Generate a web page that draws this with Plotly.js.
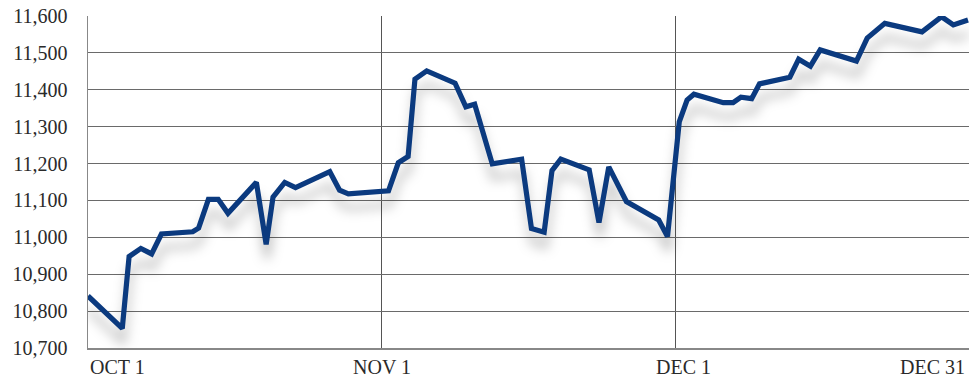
<!DOCTYPE html>
<html>
<head>
<meta charset="utf-8">
<script src="https://cdn.plot.ly/plotly-3.0.1.min.js"></script>
<style>
  html, body { margin: 0; padding: 0; background: #fff; overflow: hidden; }
  #chart { width: 970px; height: 379px; }
  #chart .scatterlayer .js-line { filter: drop-shadow(1px 14px 6px rgba(0,0,0,0.26)); }
</style>
</head>
<body>
<div id="chart"></div>
<script>
// Position of each reading in days since Oct 1 (30-day-month convention: Nov 1 = 30, Dec 1 = 60, Dec 31 = 90)
const dayOffset = [0.0, 3.5, 4.2, 5.4, 6.5, 7.5, 10.7, 11.3, 12.3, 13.3, 14.3, 17.2, 18.2, 18.9, 20.1, 21.2,
  24.7, 25.7, 26.6, 30.7, 31.7, 32.7, 33.4, 34.6, 37.5, 38.6, 39.5, 41.3, 44.3, 45.3, 46.6, 47.4, 48.3,
  51.2, 52.2, 53.2, 55.0, 58.3, 59.2, 60.4, 61.2, 61.9, 64.9, 65.9, 66.7, 67.8, 68.6, 71.7, 72.6, 73.8,
  74.8, 78.5, 79.6, 81.4, 85.2, 87.2, 88.4, 89.9];
const indexValue = [10841, 10753, 10948, 10970, 10955, 11009, 11015, 11025, 11103, 11103, 11065, 11149, 10981, 11109, 11149, 11135,
  11178, 11128, 11118, 11126, 11202, 11219, 11429, 11451, 11418, 11354, 11361, 11199, 11212, 11024, 11014, 11181, 11212,
  11183, 11040, 11191, 11097, 11047, 11002, 11313, 11372, 11388, 11365, 11365, 11380, 11376, 11416, 11434, 11483, 11464,
  11508, 11478, 11540, 11580, 11557, 11598, 11576, 11589];

const xTickDays = [0, 30, 60, 90];
const xTickLabels = ['OCT 1', 'NOV 1', 'DEC 1', 'DEC 31'];
const yTickValues = [10700, 10800, 10900, 11000, 11100, 11200, 11300, 11400, 11500, 11600];

// label placement (layout only)
const labelAnchor = ['left', 'center', 'center', 'right'];
const labelShift = [0, 0, 8, -2];

const serif = 'Liberation Serif, DejaVu Serif, serif';

const trace = {
  type: 'scatter',
  mode: 'lines',
  x: dayOffset,
  y: indexValue,
  line: { color: '#0b3a7f', width: 5.2, shape: 'linear' },
  hoverinfo: 'skip'
};

const annotations = xTickDays.map((d, i) => ({
  x: d, xref: 'x', y: 0, yref: 'paper',
  text: xTickLabels[i],
  showarrow: false,
  xanchor: labelAnchor[i],
  yanchor: 'top',
  xshift: labelShift[i],
  yshift: -6,
  font: { family: serif, size: 20, color: '#2a2a2a' }
}));

const layout = {
  width: 970, height: 379,
  margin: { l: 88, r: 1, t: 16, b: 31, pad: 0 },
  paper_bgcolor: '#ffffff',
  plot_bgcolor: '#ffffff',
  showlegend: false,
  xaxis: {
    range: [0, 90],
    tickvals: xTickDays,
    showticklabels: false,
    showgrid: true,
    gridcolor: '#555555',
    gridwidth: 1.2,
    zeroline: false,
    showline: true,
    linecolor: '#888888',
    linewidth: 1.5,
    mirror: false,
    ticks: ''
  },
  yaxis: {
    range: [10700, 11600],
    tickvals: yTickValues,
    tickformat: ',d',
    showgrid: true,
    gridcolor: '#6a6a6a',
    gridwidth: 1.2,
    zeroline: false,
    showline: true,
    linecolor: '#888888',
    linewidth: 1.5,
    ticks: '',
    ticklabelstandoff: 15,
    tickfont: { family: serif, size: 20, color: '#2a2a2a' }
  },
  annotations: annotations
};

Plotly.newPlot('chart', [trace], layout, { displayModeBar: false, staticPlot: true });
</script>
</body>
</html>
